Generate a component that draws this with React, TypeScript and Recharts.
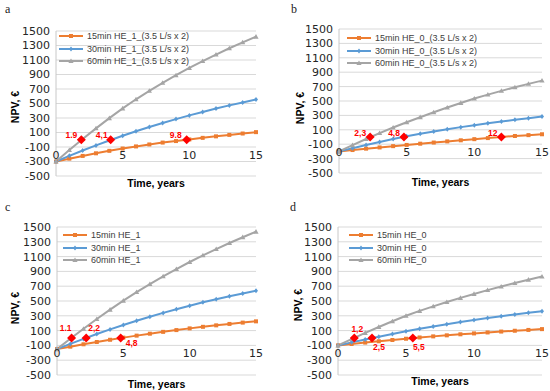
import React from "react";
import { ComposedChart, Line, Scatter, XAxis, YAxis, CartesianGrid } from "recharts";

const years = [0, 1, 2, 3, 4, 5, 6, 7, 8, 9, 10, 11, 12, 13, 14, 15];
const yTicks = [-500, -300, -100, 100, 300, 500, 700, 900, 1100, 1300, 1500];
const xTicks = [0, 5, 10, 15];

// a: HE_1 with 3.5 L/s x 2
const aOrange = [-300, -261, -223, -187, -153, -121, -92, -65, -39, -18, 4, 26, 47, 67, 86, 105];
const aBlue = [-300, -222, -148, -78, -10, 55, 117, 176, 232, 285, 336, 384, 430, 474, 515, 555];
const aGray = [-300, -142, 10, 157, 298, 432, 558, 675, 785, 890, 990, 1085, 1175, 1262, 1344, 1422];
const aNames = ["15min HE_1_(3.5 L/s x 2)", "30min HE_1_(3.5 L/s x 2)", "60min HE_1_(3.5 L/s x 2)"];
const aPayback = [1.9, 4.1, 9.8];
const aPaybackText = ["1.9", "4,1", "9.8"];

// b: HE_0 with 3.5 L/s x 2
const bOrange = [-200, -181, -162, -145, -127, -110, -93, -77, -61, -46, -30, -15, 0, 14, 26, 38];
const bBlue = [-200, -155, -111, -69, -29, 9, 44, 77, 108, 137, 164, 190, 215, 239, 262, 284];
const bGray = [-200, -113, -28, 54, 132, 205, 275, 343, 409, 473, 535, 589, 641, 691, 738, 783];
const bNames = ["15min HE_0_(3.5 L/s x 2)", "30min HE_0_(3.5 L/s x 2)", "60min HE_0_(3.5 L/s x 2)"];
const bPayback = [2.3, 4.8, 12];
const bPaybackText = ["2,3", "4,8", "12"];

// c: HE_1
const cOrange = [-150, -117, -85, -54, -24, 5, 32, 58, 83, 107, 130, 151, 171, 190, 208, 225];
const cBlue = [-150, -80, -12, 54, 116, 176, 233, 287, 339, 389, 437, 482, 524, 564, 602, 638];
const cGray = [-150, -10, 125, 256, 383, 505, 620, 729, 833, 932, 1027, 1117, 1202, 1284, 1362, 1437];
const cNames = ["15min HE_1", "30min HE_1", "60min HE_1"];
const cPayback = [1.1, 2.2, 4.8];
const cPaybackText = ["1.1", "2,2", "4,8"];

// d: HE_0
const dOrange = [-100, -81, -62, -44, -27, -10, 7, 22, 36, 50, 62, 75, 87, 98, 109, 120];
const dBlue = [-100, -59, -19, 18, 55, 90, 124, 156, 186, 215, 243, 269, 294, 318, 341, 363];
const dGray = [-100, -14, 69, 149, 226, 300, 366, 428, 486, 542, 595, 647, 696, 743, 788, 831];
const dNames = ["15min HE_0", "30min HE_0", "60min HE_0"];
const dPayback = [1.2, 2.5, 5.5];
const dPaybackText = ["1,2", "2,5", "5,5"];

const ORANGE = "#ED7D31";
const BLUE = "#5B9BD5";
const GRAY = "#A5A5A5";
const RED = "#FF0000";
const GRID = "#D9D9D9";
const FONT = "'Liberation Sans', Arial, sans-serif";
const TICK_FONT = "'DejaVu Sans', sans-serif";
const SERIES = [
  { key: "o", color: ORANGE },
  { key: "b", color: BLUE },
  { key: "g", color: GRAY },
];

type Box = { left: number; top: number; right: number; bottom: number };
type PanelCfg = {
  letter: string;
  x: number;
  y: number;
  w: number;
  h: number;
  plot: Box;
  orange: number[];
  blue: number[];
  gray: number[];
  names: string[];
  payback: number[];
  paybackText: string[];
  // label placement relative to the red marker: [dx, dy, anchor]
  labelPos: [number, number, string][];
  legend: { left: number; top: number };
  letterPos: { left: number; top: number };
  yTitle: { x: number; y: number };
  xTitleY: number;
};

const panels: PanelCfg[] = [
  {
    letter: "a", x: 0, y: 0, w: 275, h: 195,
    plot: { left: 56, top: 31, right: 256, bottom: 176 },
    orange: aOrange, blue: aBlue, gray: aGray, names: aNames,
    payback: aPayback, paybackText: aPaybackText,
    labelPos: [[-4, -2, "end"], [-3, -2, "end"], [-5, -2, "end"]],
    legend: { left: 59, top: 30 },
    letterPos: { left: 5, top: 3 },
    yTitle: { x: 19, y: 107 },
    xTitleY: 187,
  },
  {
    letter: "b", x: 275, y: 0, w: 275, h: 195,
    plot: { left: 64, top: 29, right: 267, bottom: 173 },
    orange: bOrange, blue: bBlue, gray: bGray, names: bNames,
    payback: bPayback, paybackText: bPaybackText,
    labelPos: [[-4, -1, "end"], [-4, -1, "end"], [-4, -1, "end"]],
    legend: { left: 72, top: 32 },
    letterPos: { left: 16, top: 3 },
    yTitle: { x: 29, y: 108 },
    xTitleY: 186,
  },
  {
    letter: "c", x: 0, y: 195, w: 275, h: 196,
    plot: { left: 57, top: 32, right: 256, bottom: 180 },
    orange: cOrange, blue: cBlue, gray: cGray, names: cNames,
    payback: cPayback, paybackText: cPaybackText,
    labelPos: [[-6, -7, "middle"], [8, -7, "middle"], [11, 8, "middle"]],
    legend: { left: 63, top: 34 },
    letterPos: { left: 5, top: 6 },
    yTitle: { x: 19, y: 113 },
    xTitleY: 193,
  },
  {
    letter: "d", x: 275, y: 195, w: 275, h: 196,
    plot: { left: 63, top: 32, right: 267, bottom: 180 },
    orange: dOrange, blue: dBlue, gray: dGray, names: dNames,
    payback: dPayback, paybackText: dPaybackText,
    labelPos: [[3, -6, "middle"], [7, 12, "middle"], [6, 12, "middle"]],
    legend: { left: 74, top: 34 },
    letterPos: { left: 15, top: 6 },
    yTitle: { x: 27, y: 110 },
    xTitleY: 190,
  },
];

const Square = (props: any) => {
  const { cx, cy } = props;
  if (cx == null || cy == null) return <g />;
  return <rect x={cx - 2} y={cy - 2} width={4} height={4} fill={ORANGE} />;
};

const SmallDiamond = (props: any) => {
  const { cx, cy } = props;
  if (cx == null || cy == null) return <g />;
  return <path d={`M${cx},${cy - 2.5}L${cx + 2},${cy}L${cx},${cy + 2.5}L${cx - 2},${cy}Z`} fill={BLUE} />;
};

const Triangle = (props: any) => {
  const { cx, cy } = props;
  if (cx == null || cy == null) return <g />;
  return <path d={`M${cx},${cy - 2.6}L${cx + 2.6},${cy + 2}L${cx - 2.6},${cy + 2}Z`} fill={GRAY} />;
};

const markerFor = (key: string, cx: number, cy: number) => {
  if (key === "o") return <Square cx={cx} cy={cy} />;
  if (key === "b") return <SmallDiamond cx={cx} cy={cy} />;
  return <Triangle cx={cx} cy={cy} />;
};

function PanelChart({ p }: { p: PanelCfg }) {
  const rows = years.map((t, i) => ({ t, o: p.orange[i], b: p.blue[i], g: p.gray[i] }));
  const marks = p.payback.map((t, i) => ({ t, v: 0, label: p.paybackText[i], i }));
  const plotH = p.plot.bottom - p.plot.top;
  const zeroY = p.plot.top + (plotH * 1500) / 2000;
  const plotMid = (p.plot.left + p.plot.right) / 2;

  const XTick = (props: any) => {
    const { x, payload } = props;
    return (
      <text x={x} y={zeroY + 19} textAnchor="middle" fontSize={11} fill="#262626" fontFamily={TICK_FONT}>
        {payload.value}
      </text>
    );
  };

  const PaybackShape = (props: any) => {
    const { cx, cy, payload } = props;
    const [dx, dy, anchor] = p.labelPos[payload.i];
    return (
      <g>
        <path d={`M${cx},${cy - 4.5}L${cx + 4.5},${cy}L${cx},${cy + 4.5}L${cx - 4.5},${cy}Z`} fill={RED} />
        <text x={cx + dx} y={cy + dy} textAnchor={anchor as any} fontSize={8.5} fontWeight="bold" fill={RED} fontFamily={FONT}>
          {payload.label}
        </text>
      </g>
    );
  };

  return (
    <div style={{ position: "absolute", left: p.x, top: p.y, width: p.w, height: p.h }}>
      <div
        style={{
          position: "absolute",
          left: p.letterPos.left,
          top: p.letterPos.top,
          fontFamily: "'Liberation Serif', 'Times New Roman', serif",
          fontSize: 12,
          lineHeight: 1,
          color: "#222",
        }}
      >
        {p.letter}
      </div>
      <ComposedChart
        width={p.w}
        height={p.h}
        data={rows}
        margin={{ top: p.plot.top, right: p.w - p.plot.right, bottom: 0, left: 0 }}
        style={{ fontFamily: FONT }}
      >
        <CartesianGrid vertical={false} stroke={GRID} strokeWidth={1} />
        <XAxis
          dataKey="t"
          type="number"
          domain={[0, 15]}
          ticks={xTicks}
          interval={0}
          axisLine={false}
          tickLine={false}
          height={p.h - p.plot.bottom}
          tick={<XTick />}
          label={{
            content: () => (
              <text x={plotMid} y={p.xTitleY} textAnchor="middle" fontSize={10.5} fontWeight="bold" fill="#000" fontFamily={FONT}>
                Time, years
              </text>
            ),
          }}
        />
        <YAxis
          type="number"
          domain={[-500, 1500]}
          ticks={yTicks}
          interval={0}
          width={p.plot.left}
          axisLine={{ stroke: "#C8C8C8" }}
          tickLine={false}
          tickSize={0}
          tickMargin={6}
          tick={{ fontSize: 11, fill: "#262626", fontFamily: TICK_FONT }}
          label={{
            content: () => (
              <text
                x={p.yTitle.x}
                y={p.yTitle.y}
                transform={`rotate(-90 ${p.yTitle.x} ${p.yTitle.y})`}
                textAnchor="middle"
                fontSize={10.5}
                fontWeight="bold"
                fill="#000"
                fontFamily={FONT}
              >
                NPV, €
              </text>
            ),
          }}
        />
        <Line name={p.names[0]} dataKey="o" stroke={ORANGE} strokeWidth={2} dot={<Square />} activeDot={false} isAnimationActive={false} />
        <Line name={p.names[1]} dataKey="b" stroke={BLUE} strokeWidth={2} dot={<SmallDiamond />} activeDot={false} isAnimationActive={false} />
        <Line name={p.names[2]} dataKey="g" stroke={GRAY} strokeWidth={2} dot={<Triangle />} activeDot={false} isAnimationActive={false} />
        <Scatter data={marks} dataKey="v" legendType="none" shape={<PaybackShape />} isAnimationActive={false} />
      </ComposedChart>
      <div style={{ position: "absolute", left: p.legend.left, top: p.legend.top, fontFamily: FONT, fontSize: 9, color: "#404040" }}>
        {SERIES.map((s, i) => (
          <div key={s.key} style={{ display: "flex", alignItems: "center", height: 12.5 }}>
            <svg width={24} height={8} style={{ marginRight: 4 }}>
              <line x1={0} y1={4} x2={24} y2={4} stroke={s.color} strokeWidth={2} />
              {markerFor(s.key, 12, 4)}
            </svg>
            <span style={{ whiteSpace: "nowrap" }}>{p.names[i]}</span>
          </div>
        ))}
      </div>
    </div>
  );
}

export default function App() {
  return (
    <div style={{ position: "absolute", left: 0, top: 0, width: 550, height: 391, background: "#fff", overflow: "hidden" }}>
      {panels.map((p) => (
        <PanelChart key={p.letter} p={p} />
      ))}
    </div>
  );
}
